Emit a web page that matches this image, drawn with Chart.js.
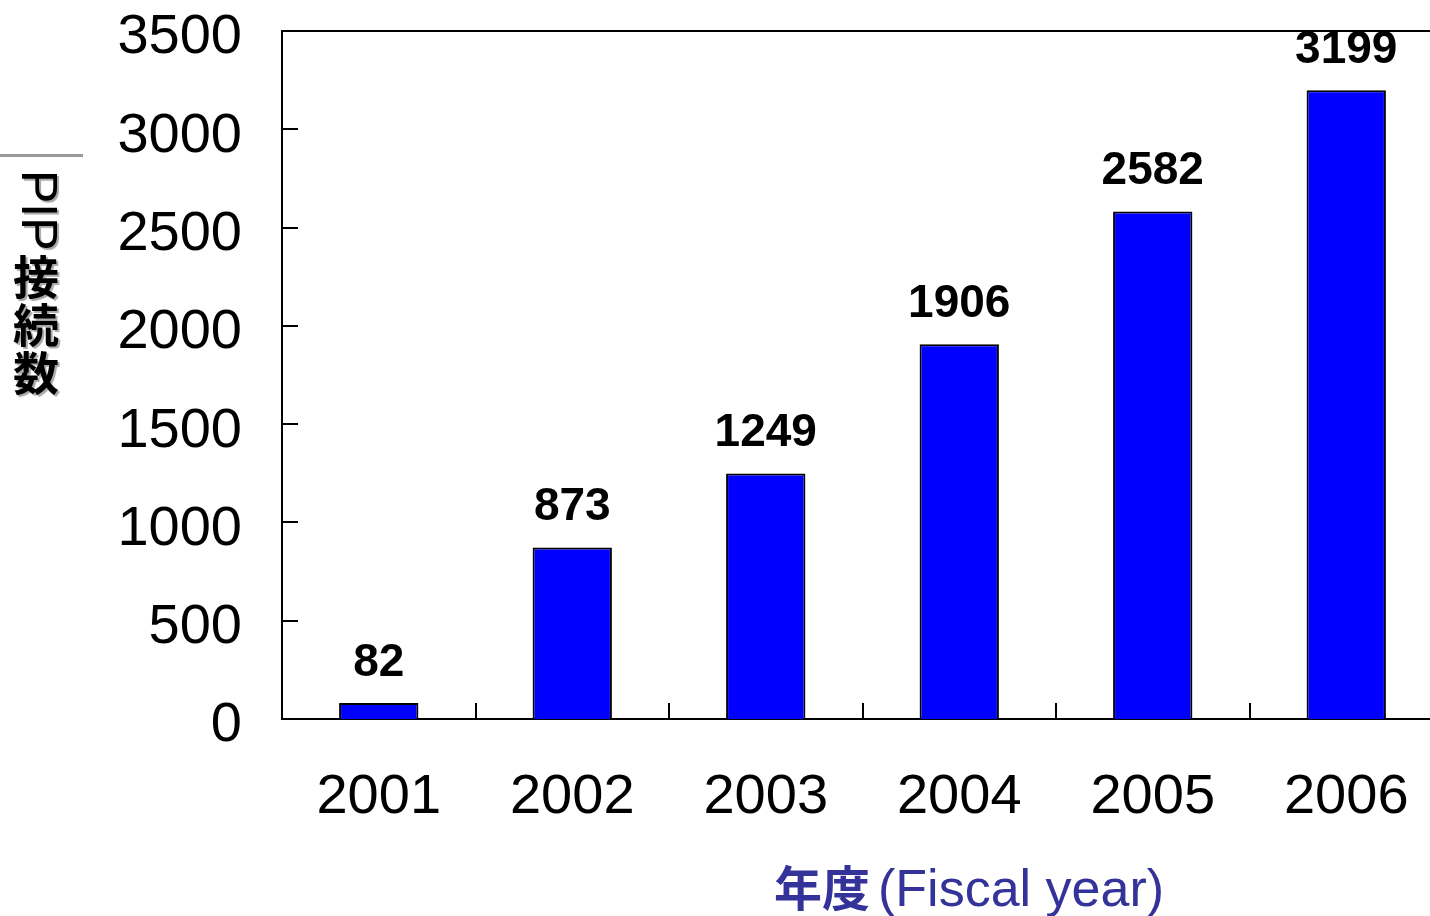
<!DOCTYPE html>
<html>
<head>
<meta charset="utf-8">
<script src="https://cdn.jsdelivr.net/npm/chart.js@4"></script>
<style>
  html, body { margin: 0; padding: 0; background: #fff; overflow: hidden; }
  #wrap { width: 1430px; height: 916px; overflow: hidden; }
  #pipChart { display: block; }
</style>
</head>
<body>
<div id="wrap"><canvas id="pipChart" width="1443" height="916"></canvas></div>
<script>
// PIP connections per fiscal year
const years = ['2001', '2002', '2003', '2004', '2005', '2006'];
const connections = [82, 873, 1249, 1906, 2582, 3199];
const yTicks = [0, 500, 1000, 1500, 2000, 2500, 3000, 3500];

const LATIN = "'Liberation Sans', Arial, sans-serif";
const CJK = "'Noto Sans CJK JP', sans-serif";

// Inward tick marks, y labels, top frame line, value labels and axis titles
const decorations = {
    id: 'decorations',
    afterDatasetsDraw(chart) {
        const ctx = chart.ctx;
        const area = chart.chartArea;
        const y = chart.scales.y;

        ctx.save();
        ctx.strokeStyle = '#000';
        ctx.lineWidth = 2;
        ctx.beginPath();
        // top frame
        ctx.moveTo(area.left, area.top);
        ctx.lineTo(area.right, area.top);
        // y ticks pointing into the plot
        yTicks.forEach(v => {
            const py = Math.round(y.getPixelForValue(v));
            ctx.moveTo(area.left, py);
            ctx.lineTo(area.left + 16, py);
        });
        // x ticks between categories
        const step = (area.right - area.left) / years.length;
        for (let i = 1; i < years.length; i++) {
            const px = Math.round(area.left + step * i);
            ctx.moveTo(px, area.bottom);
            ctx.lineTo(px, area.bottom - 16);
        }
        ctx.stroke();

        // y tick labels, sitting a little below their ticks
        ctx.fillStyle = '#000';
        ctx.font = '56px ' + LATIN;
        ctx.textAlign = 'right';
        ctx.textBaseline = 'middle';
        yTicks.forEach(v => {
            ctx.fillText(String(v), area.left - 40, y.getPixelForValue(v) + 7);
        });

        // values above bars
        const meta = chart.getDatasetMeta(0);
        ctx.font = 'bold 46px ' + LATIN;
        ctx.textAlign = 'center';
        ctx.textBaseline = 'alphabetic';
        meta.data.forEach((bar, i) => {
            ctx.fillText(String(connections[i]), bar.x, bar.y - 27);
        });

        // y title, written vertically with a soft shadow
        ctx.fillStyle = '#9a9a9a';
        ctx.fillRect(0, 154, 83, 3);
        ctx.shadowColor = 'rgba(0,0,0,0.35)';
        ctx.shadowOffsetX = 2;
        ctx.shadowOffsetY = 2;
        ctx.shadowBlur = 1;
        ctx.fillStyle = '#000';
        ctx.save();
        ctx.translate(36, 170);
        ctx.rotate(Math.PI / 2);
        ctx.font = '50px ' + LATIN;
        ctx.textAlign = 'left';
        ctx.textBaseline = 'middle';
        ctx.fillText('PIP', 0, 0);
        ctx.restore();
        ctx.font = 'bold 46px ' + CJK;
        ctx.textAlign = 'center';
        ctx.textBaseline = 'middle';
        ['接', '続', '数'].forEach((c, i) => {
            ctx.fillText(c, 36, 277 + i * 48);
        });
        ctx.shadowColor = 'transparent';

        // x title
        ctx.fillStyle = '#333399';
        ctx.textAlign = 'left';
        ctx.textBaseline = 'alphabetic';
        ctx.font = 'bold 48px ' + CJK;
        ctx.fillText('年度', 774, 906);
        const w = ctx.measureText('年度').width;
        ctx.font = '52px ' + LATIN;
        ctx.fillText('(Fiscal year)', 774 + w + 8, 906);
        ctx.restore();
    }
};

new Chart(document.getElementById('pipChart'), {
    type: 'bar',
    data: {
        labels: years,
        datasets: [{
            data: connections,
            backgroundColor: '#0000ff',
            borderColor: '#000',
            borderWidth: 2,
            borderSkipped: 'bottom',
            barPercentage: 0.41,
            categoryPercentage: 1
        }]
    },
    options: {
        responsive: false,
        animation: false,
        layout: { padding: { top: 31, right: 0, bottom: 0, left: 0 } },
        plugins: {
            legend: { display: false },
            tooltip: { enabled: false }
        },
        scales: {
            x: {
                grid: { display: false, drawTicks: false },
                border: { display: true, color: '#000', width: 2 },
                ticks: {
                    color: '#000',
                    font: { family: LATIN, size: 56 },
                    padding: 45,
                    maxRotation: 0
                },
                afterFit(scale) {
                    scale.height = 197;
                    scale.paddingLeft = 0;
                    scale.paddingRight = 0;
                }
            },
            y: {
                min: 0,
                max: 3500,
                grid: { display: false, drawTicks: false },
                border: { display: true, color: '#000', width: 2 },
                ticks: {
                    display: false,
                    stepSize: 500
                },
                afterFit(scale) {
                    scale.width = 282;
                    scale.paddingTop = 0;
                    scale.paddingBottom = 0;
                }
            }
        }
    },
    plugins: [decorations]
});
</script>
</body>
</html>
